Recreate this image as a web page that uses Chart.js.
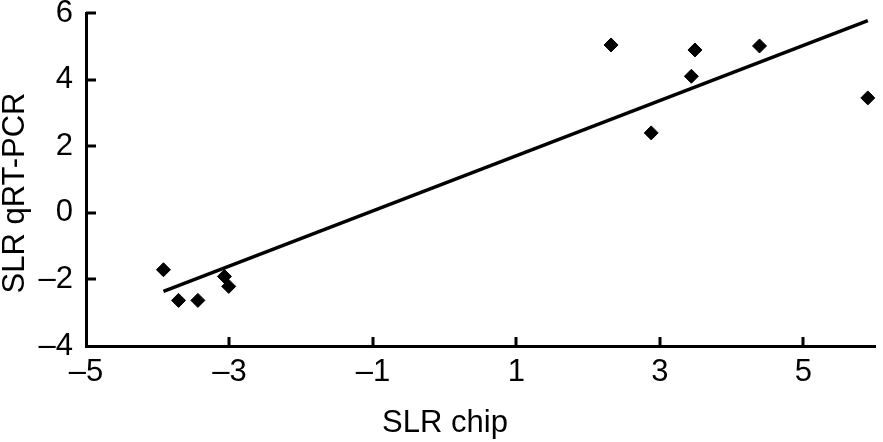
<!DOCTYPE html>
<html>
<head>
<meta charset="utf-8">
<script src="https://cdn.jsdelivr.net/npm/chart.js@4/dist/chart.umd.min.js"></script>
<style>
  html, body { margin: 0; padding: 0; background: #fff; }
  #wrap { width: 883px; height: 442px; }
</style>
</head>
<body>
<div id="wrap"><canvas id="scatter" width="883" height="442"></canvas></div>
<script>
// SLR chip vs SLR qRT-PCR
const chipX = [-3.92, -3.71, -3.44, -3.07, -3.01, 2.32, 2.88, 3.44, 3.49, 4.39, 5.90];
const qpcrY = [-1.71, -2.63, -2.63, -1.91, -2.21, 5.04, 2.40, 4.10, 4.89, 5.01, 3.45];

// regression line end points
const fitX = [-3.92, 5.90];
const fitY = [-2.36, 5.77];

const xTicks = [-5, -3, -1, 1, 3, 5];
const yTicks = [-4, -2, 0, 2, 4, 6];

const xTitle = 'SLR chip';
const yTitle = 'SLR qRT-PCR';

const FONT = '"Liberation Sans", Arial, sans-serif';

const fmt = v => (v < 0 ? '\u2013' + Math.abs(v) : String(v));

// tick marks point into the plot, and the axis titles sit off-centre
const axisExtras = {
    id: 'axisExtras',
    afterDraw(chart) {
        const ctx = chart.ctx;
        const a = chart.chartArea;
        const xs = chart.scales.x, ys = chart.scales.y;
        ctx.save();
        ctx.strokeStyle = '#000';
        ctx.lineWidth = 3;
        ctx.beginPath();
        xTicks.forEach(v => {
            const px = Math.round(xs.getPixelForValue(v));
            if (v === xs.min) return;
            ctx.moveTo(px, a.bottom);
            ctx.lineTo(px, a.bottom - 9);
        });
        yTicks.forEach(v => {
            const py = Math.round(ys.getPixelForValue(v));
            if (v === ys.min) return;
            ctx.moveTo(a.left, py);
            ctx.lineTo(a.left + 10, py);
        });
        ctx.stroke();

        ctx.fillStyle = '#000';
        ctx.font = '31px ' + FONT;
        ctx.textAlign = 'center';
        ctx.textBaseline = 'middle';
        ctx.fillText(xTitle, a.left + 359, a.bottom + 77);
        ctx.translate(15, a.top + 180);
        ctx.rotate(-Math.PI / 2);
        ctx.fillText(yTitle, 0, 0);
        ctx.restore();
    }
};

const points = chipX.map((x, i) => ({ x: x, y: qpcrY[i] }));
const fitLine = fitX.map((x, i) => ({ x: x, y: fitY[i] }));

new Chart(document.getElementById('scatter').getContext('2d'), {
    type: 'scatter',
    data: {
        datasets: [
            {
                data: points,
                pointStyle: 'rectRot',
                pointRadius: 7,
                backgroundColor: '#000',
                borderColor: '#000',
                borderWidth: 1
            },
            {
                type: 'line',
                data: fitLine,
                borderColor: '#000',
                borderWidth: 3.5,
                pointRadius: 0,
                fill: false,
                tension: 0
            }
        ]
    },
    options: {
        responsive: false,
        animation: false,
        layout: { padding: { top: 13, right: 3, left: 0, bottom: 0 } },
        plugins: {
            legend: { display: false },
            tooltip: { enabled: false }
        },
        scales: {
            x: {
                type: 'linear',
                min: -5,
                max: 6,
                afterBuildTicks: s => { s.ticks = xTicks.map(v => ({ value: v })); },
                afterFit: s => { s.height = 96; s.paddingLeft = 0; s.paddingRight = 0; },
                border: { display: true, color: '#000', width: 3 },
                grid: { display: false, drawTicks: false },
                ticks: { color: '#000', font: { family: FONT, size: 31 }, padding: 8, maxRotation: 0, callback: fmt }
            },
            y: {
                type: 'linear',
                min: -4,
                max: 6,
                afterBuildTicks: s => { s.ticks = yTicks.map(v => ({ value: v })); },
                afterFit: s => { s.width = 86; s.paddingTop = 0; s.paddingBottom = 0; },
                border: { display: true, color: '#000', width: 3 },
                grid: { display: false, drawTicks: false },
                ticks: { color: '#000', font: { family: FONT, size: 31 }, padding: 13, callback: fmt }
            }
        }
    },
    plugins: [axisExtras]
});
</script>
</body>
</html>
